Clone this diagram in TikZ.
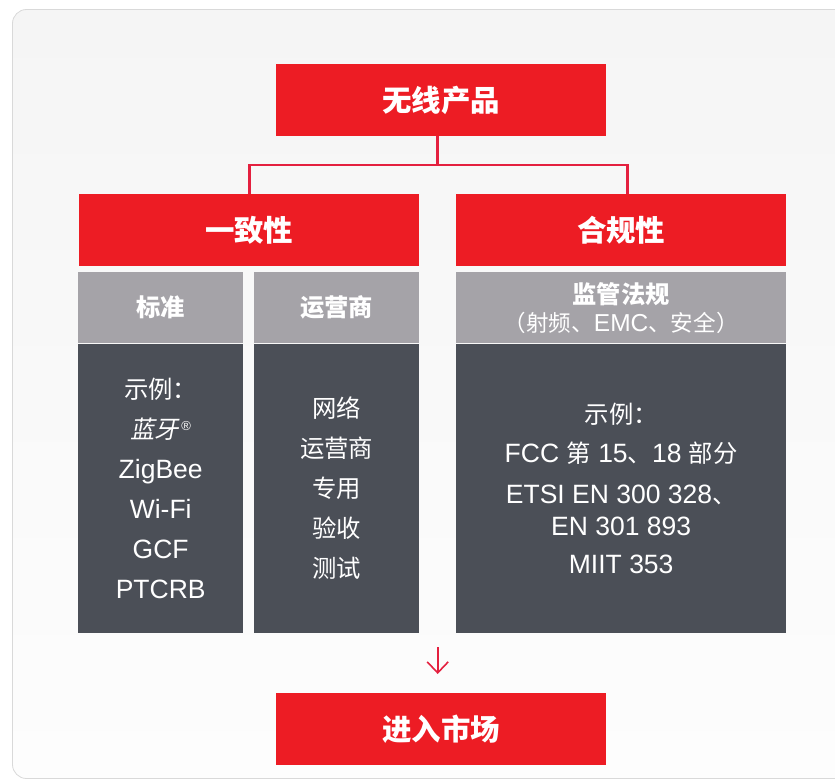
\documentclass[tikz,border=0pt]{standalone}
\usepackage{fontspec}
\setmainfont{Liberation Sans}
\newfontfamily\cjk[Scale=0.92]{Noto Sans CJK SC}
\newfontfamily\cjkit[Scale=0.92,FakeSlant=0.2]{Noto Sans CJK SC}
\newcommand{\zh}[1]{{\cjk #1}}
\usetikzlibrary{positioning,arrows.meta}
\definecolor{brandred}{HTML}{ED1C24}
\definecolor{linkred}{HTML}{E4203F}
\definecolor{headgray}{HTML}{A5A3A8}
\definecolor{bodygray}{HTML}{4B4F57}
\definecolor{paneltop}{HTML}{F5F5F5}
\definecolor{panelbot}{HTML}{FDFDFD}
\definecolor{panelrim}{HTML}{D9D9D9}
\tikzset{
  redbox/.style={
    rectangle,
    fill=brandred,
    text=white,
    inner sep=0pt,
    minimum height=71.5pt,
    anchor=north west,
    font=\cjk\bfseries\fontsize{32}{36}\selectfont},
  headbox/.style={
    rectangle,
    fill=headgray,
    text=white,
    inner sep=0pt,
    minimum height=71pt,
    align=center,
    anchor=north west},
  bodybox/.style={
    rectangle,
    fill=bodygray,
    text=white,
    inner sep=0pt,
    minimum height=289pt,
    align=center},
  link/.style = {draw=linkred, line width=2.7pt},
  pointer/.style = {draw=linkred, line width=1.6pt,
    -{Straight Barb[length=11pt,width=21pt,line width=1.6pt]}},
}

\begin{document}
\begin{tikzpicture}[x=1pt,y=-1pt,node distance=0pt]
  \useasboundingbox (0,0) rectangle (835,779);
  % background panel
  \shade[top color=paneltop,bottom color=panelbot,draw=panelrim,line width=0.8pt,
    rounded corners=14pt] (12.5,9.5) rectangle (870,778.5);

  \node[redbox,minimum width=330pt](product) at (276,64) {无线产品};
  \node[redbox,minimum width=340pt](conform) at (79,194) {一致性};
  \node[redbox,minimum width=330pt](comply) at (456,194) {合规性};

  \node[headbox,minimum width=165pt,font=\cjk\bfseries\fontsize{26.4}{30}\selectfont](std) at (78,272) {标准};
  \node[headbox,minimum width=165pt,font=\cjk\bfseries\fontsize{26.4}{30}\selectfont](carrier) at (254,272) {运营商};
  \node[headbox,minimum width=330pt,font=\fontsize{24.5}{28}\selectfont](regul) at (456,272)
    {{\cjk\bfseries\fontsize{26.4}{28}\selectfont 监管法规}\\ \zh{（射频、}EMC\zh{、安全）}};

  \node[bodybox,minimum width=165pt,font=\fontsize{26.5}{40}\selectfont](stdbody)[below=of std]
    {\zh{示例：}\\ {\cjkit 蓝牙}\kern2pt\raisebox{8pt}{\fontsize{13}{13}\selectfont ®}\\ ZigBee\\ Wi-Fi\\ GCF\\ PTCRB};
  \node[bodybox,minimum width=165pt,font=\cjk\fontsize{26.5}{40}\selectfont](carrierbody)[below=of carrier]
    {网络\\ 运营商\\ 专用\\ 验收\\ 测试};
  \node[bodybox,minimum width=330pt,font=\fontsize{26.5}{32}\selectfont](regulbody)[below=of regul]
    {\zh{示例：}\\[7pt] FCC \zh{第} 15\zh{、}18 \zh{部分}\\[9pt] ETSI EN 300 328\zh{、}\\ EN 301 893\\[6pt] MIIT 353};

  \node[redbox,minimum width=330pt](market) at (276,693) {进入市场};

  % connectors
  \draw[link] ([xshift=-3.5pt]product.south) -- ++(0,29) coordinate (fork);
  \draw[link] (fork) -| (conform.north);
  \draw[link] (fork) -| ([xshift=6.5pt]comply.north);
  \draw[pointer] ([xshift=-3.5pt,yshift=46pt]market.north) -- ([xshift=-3.5pt,yshift=19pt]market.north);
\end{tikzpicture}
\end{document}
